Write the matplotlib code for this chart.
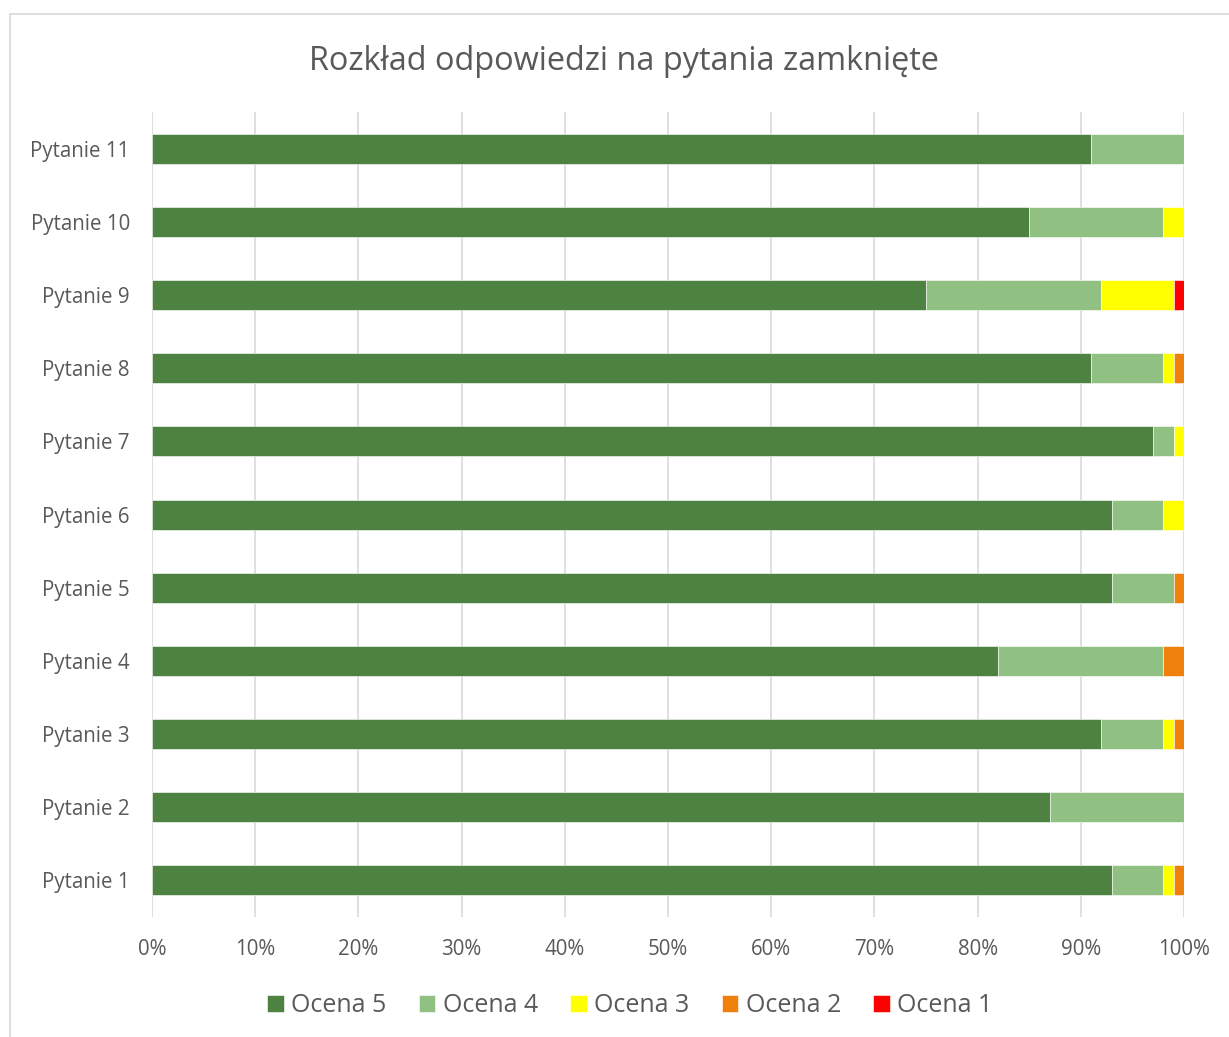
import numpy as np
import matplotlib.pyplot as plt
from matplotlib.patches import Rectangle

plt.rcParams['font.family'] = ['Open Sans', 'DejaVu Sans']

# questions, bottom to top
questions = ['Pytanie 1', 'Pytanie 2', 'Pytanie 3', 'Pytanie 4', 'Pytanie 5', 'Pytanie 6',
             'Pytanie 7', 'Pytanie 8', 'Pytanie 9', 'Pytanie 10', 'Pytanie 11']

# share of answers in percent
ocena5 = [93, 87, 92, 82, 93, 93, 97, 91, 75, 85, 91]
ocena4 = [5, 13, 6, 16, 6, 5, 2, 7, 17, 13, 9]
ocena3 = [1, 0, 1, 0, 0, 2, 1, 1, 7, 2, 0]
ocena2 = [1, 0, 1, 2, 1, 0, 0, 1, 0, 0, 0]
ocena1 = [0, 0, 0, 0, 0, 0, 0, 0, 1, 0, 0]

series = [ocena5, ocena4, ocena3, ocena2, ocena1]
names = ['Ocena 5', 'Ocena 4', 'Ocena 3', 'Ocena 2', 'Ocena 1']
colors = ['#4E8240', '#90C183', '#FFFF00', '#F0800C', '#FF0000']

fig = plt.figure(figsize=(12.29, 10.37), dpi=100)
ax = fig.add_axes([0.1237, 0.1157, 0.8397, 0.7763])

# chart border
fig.patches.append(Rectangle((10 / 1229, -0.05), 1.0, 1.05 - 14 / 1037, transform=fig.transFigure,
                             fill=False, edgecolor='#D9D9D9', linewidth=1.2))

y = np.arange(len(questions))
left = np.zeros(len(questions))
for vals, name, col in zip(series, names, colors):
    vals = np.array(vals, dtype=float)
    ax.barh(y, vals, left=left, height=0.41, color=col, label=name,
            edgecolor='white', linewidth=0.4, zorder=3)
    left += vals

ax.set_xlim(0, 100)
ax.set_ylim(-0.5, len(questions) - 0.5)
ax.set_yticks(y)
ax.set_yticklabels(questions)
ax.set_xticks(np.arange(0, 101, 10))
ax.set_xticklabels([f'{v}%' for v in range(0, 101, 10)])
ax.tick_params(axis='both', length=0, labelsize=14.8, colors='#595959')
ax.tick_params(axis='x', pad=16)
ax.tick_params(axis='y', pad=16)
ax.xaxis.grid(True, color='#D9D9D9', linewidth=1.2, zorder=0)
for s in ax.spines.values():
    s.set_visible(False)

fig.text(0.508, 0.941, 'Rozkład odpowiedzi na pytania zamknięte', ha='center', va='center',
         fontsize=23.4, color='#595959')

fig.legend(loc='center', bbox_to_anchor=(0.5126, 0.030), ncol=5, frameon=False,
           fontsize=18, handlelength=0.65, handleheight=0.65, handletextpad=0.3,
           columnspacing=1.3, labelcolor='#595959')

fig.savefig('out.png', dpi=100)
